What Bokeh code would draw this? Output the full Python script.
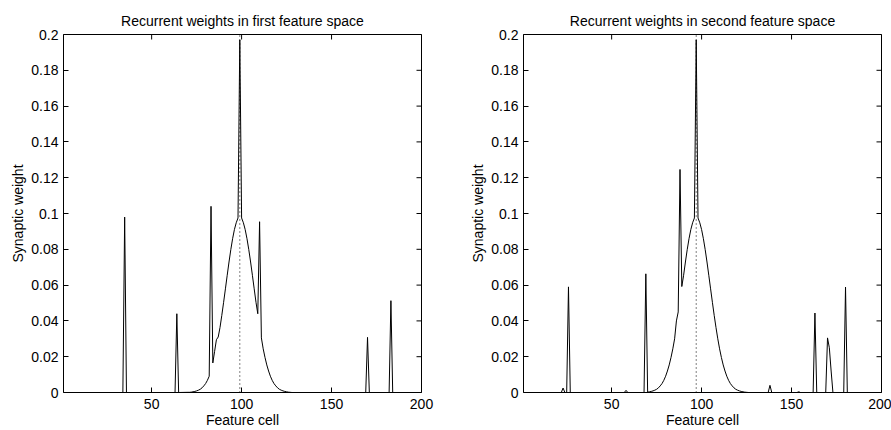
import math
from bokeh.plotting import figure
from bokeh.layouts import row
from bokeh.models import Range1d, FixedTicker
from bokeh.embed import file_html
from bokeh.resources import INLINE

# ---------------- data ----------------
titles = ["Recurrent weights in first feature space",
          "Recurrent weights in second feature space"]
x_label = "Feature cell"
y_label = "Synaptic weight"

x_min, x_max = 1, 200
y_min, y_max = 0.0, 0.2
x_ticks = [50, 100, 150, 200]
y_ticks = [0.0, 0.02, 0.04, 0.06, 0.08, 0.1, 0.12, 0.14, 0.16, 0.18, 0.2]
y_tick_labels = ["0", "0.02", "0.04", "0.06", "0.08", "0.1",
                 "0.12", "0.14", "0.16", "0.18", "0.2"]

# first feature space: polyline vertices (cell, weight)
cells_first = [1, 34, 35, 36, 63, 64, 65,
               70, 71, 72, 73, 74, 75, 76, 77, 78, 79, 80, 81, 82, 83, 84, 85,
               86, 87, 88, 89, 90, 91, 92, 93, 94, 95, 96, 97, 98, 99, 100,
               101, 102, 103, 104, 105, 106, 107, 108, 109, 110, 111, 112,
               113, 114, 115, 116, 117, 118, 119, 120, 121, 122, 123, 124,
               125, 126, 127, 128, 169, 170, 171, 182, 183, 184, 200]
weights_first = [0, 0, 0.098, 0, 0, 0.044, 0,
                 0.0001, 0.0001, 0.0002, 0.0004, 0.0006, 0.0009, 0.0013,
                 0.0018, 0.0026, 0.0037, 0.0050, 0.0068, 0.0091, 0.104,
                 0.0165, 0.023, 0.0295, 0.031, 0.0363, 0.0431, 0.0504,
                 0.0579, 0.0655, 0.0729, 0.0798, 0.0859, 0.0910, 0.0948,
                 0.0975, 0.197, 0.0975, 0.0948, 0.0910, 0.0859, 0.0798,
                 0.0729, 0.0655, 0.0579, 0.0504, 0.0440, 0.0954, 0.0305,
                 0.0244, 0.0196, 0.0154, 0.0120, 0.0091, 0.0068, 0.0050,
                 0.0037, 0.0026, 0.0018, 0.0013, 0.0009, 0.0006, 0.0004,
                 0.0002, 0.0001, 0, 0, 0.0308, 0, 0, 0.0513, 0, 0]
center_first = 99

# second feature space
cells_second = [1, 22, 23, 24, 25, 26, 27, 57, 58, 59, 68, 69,
                70, 71, 72, 73, 74, 75, 76, 77, 78, 79, 80, 81, 82, 83, 84,
                85, 86, 87, 88, 89, 90, 91, 92, 93, 94, 95, 96, 97, 98, 99,
                100, 101, 102, 103, 104, 105, 106, 107, 108, 109, 110, 111,
                112, 113, 114, 115, 116, 117, 118, 119, 120, 121, 122, 123,
                124, 125, 126, 137, 138, 139, 153, 154, 155, 162, 163, 164,
                169, 170, 171, 172, 173, 179, 180, 181, 200]
weights_second = [0, 0, 0.0025, 0, 0, 0.059, 0, 0, 0.0012, 0, 0, 0.0663,
                  0.0002, 0.0004, 0.0006, 0.0009, 0.0013, 0.0018, 0.0026,
                  0.0037, 0.0050, 0.0068, 0.0091, 0.0120, 0.0154, 0.0196,
                  0.0244, 0.0300, 0.0400, 0.0450, 0.1246, 0.0592, 0.0655,
                  0.0729, 0.0798, 0.0859, 0.0910, 0.0948, 0.0975, 0.197,
                  0.0975, 0.0948, 0.0910, 0.0859, 0.0798, 0.0729, 0.0655,
                  0.0579, 0.0504, 0.0431, 0.0363, 0.0300, 0.0244, 0.0196,
                  0.0154, 0.0120, 0.0091, 0.0068, 0.0050, 0.0037, 0.0026,
                  0.0018, 0.0013, 0.0009, 0.0006, 0.0004, 0.0002, 0.0001, 0,
                  0, 0.004, 0, 0, 0.0004, 0, 0, 0.0444, 0,
                  0, 0.0305, 0.025, 0.012, 0, 0, 0.0589, 0, 0]
center_second = 97

FONT = "Liberation Sans"
FS = "14px"


def make_panel(title, cells, weights, center, width, left, right):
    p = figure(width=width, height=430,
               x_range=Range1d(x_min, x_max), y_range=Range1d(y_min, y_max),
               output_backend="svg", toolbar_location=None,
               min_border_left=left, min_border_right=right,
               min_border_top=34, min_border_bottom=37)
    p.title.text = title
    p.title.align = "center"
    p.title.text_font = FONT
    p.title.text_font_size = FS
    p.title.text_font_style = "normal"
    p.title.text_color = "black"
    p.title.offset = 0
    p.title.standoff = 12
    p.grid.visible = False
    p.outline_line_color = "black"
    p.outline_line_width = 1
    p.background_fill_color = "white"
    p.border_fill_color = "white"

    xa = p.xaxis[0]
    xa.ticker = FixedTicker(ticks=x_ticks)
    xa.axis_label = x_label
    ya = p.yaxis[0]
    ya.ticker = FixedTicker(ticks=y_ticks)
    ya.major_label_overrides = {t: l for t, l in zip(y_ticks, y_tick_labels)}
    ya.axis_label = y_label
    for ax in (xa, ya):
        ax.major_tick_in = 5
        ax.major_tick_out = 0
        ax.minor_tick_line_color = None
        ax.axis_line_color = None
        ax.major_tick_line_color = "black"
        ax.major_label_text_font = FONT
        ax.major_label_text_font_size = FS
        ax.major_label_text_color = "black"
        ax.axis_label_text_font = FONT
        ax.axis_label_text_font_size = FS
        ax.axis_label_text_font_style = "normal"
        ax.axis_label_text_color = "black"
    xa.major_label_standoff = 6
    xa.axis_label_standoff = 0
    ya.major_label_standoff = 5
    ya.axis_label_standoff = 2

    # inward tick marks on the top and right edges of the box (half clipped)
    p.scatter(x=x_ticks, y=[y_max] * len(x_ticks), marker="dash",
              angle=math.pi / 2, size=10, line_color="black", line_width=1)
    p.scatter(x=[x_max] * len(y_ticks), y=y_ticks, marker="dash",
              size=10, line_color="black", line_width=1)

    p.segment(x0=[center], y0=[y_min], x1=[center], y1=[y_max],
              line_color="black", line_width=1, line_dash="1 3")
    p.line(cells, weights, line_color="black", line_width=1)
    return p


p1 = make_panel(titles[0], cells_first, weights_first, center_first,
                458, 63, 37)
p2 = make_panel(titles[1], cells_second, weights_second, center_second,
                433, 65, 10)

layout = row(p1, p2)
open("out.html", "w").write(file_html(layout, INLINE))
